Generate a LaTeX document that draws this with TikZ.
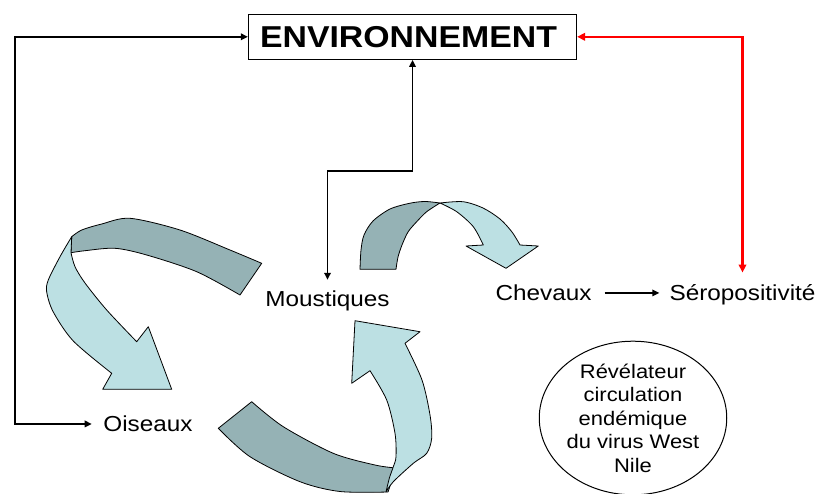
\documentclass[tikz,border=0pt]{standalone}
\usepackage{fontspec}
\usepackage{graphicx}
\setmainfont{Liberation Sans}
\usetikzlibrary{arrows.meta,shapes.geometric}
\newcommand{\sx}[1]{\scalebox{1.12}[1]{#1}}
\definecolor{ribdarkc}{RGB}{149,178,181}
\definecolor{riblightc}{RGB}{188,224,227}
\definecolor{redc}{RGB}{255,0,0}
\tikzset{
  blk/.style={line width=1.6pt,black,{Triangle[length=7pt,width=6.5pt]}-{Triangle[length=7pt,width=6.5pt]}},
  redl/.style={line width=2.2pt,redc,{Triangle[length=8pt,width=7.5pt]}-{Triangle[length=8pt,width=7.5pt]}},
  onehead/.style={line width=1.4pt,black,-{Triangle[length=7pt,width=6.5pt]}},
  lbl/.style={inner sep=0pt,font=\fontsize{21.7}{26}\selectfont},
  ribdark/.style={fill=ribdarkc,draw=black,line width=0.8pt,line join=round},
  riblight/.style={fill=riblightc,draw=black,line width=0.8pt,line join=round},
}
\begin{document}
\begin{tikzpicture}[x=1pt,y=-1pt]
\useasboundingbox (0,0) rectangle (818,493);

% nodes
\node[draw,line width=1.2pt,minimum width=328pt,minimum height=45pt,inner sep=0pt]
  (env) at (412.5,36.8) {\fontsize{30.2}{36}\selectfont\bfseries\sx{ENVIRONNEMENT}\kern8pt};
\node[lbl,anchor=base] (mous) at (327.5,306.7) {\sx{Moustiques}};
\node[lbl,anchor=base] (chev) at (543.5,300.7) {\sx{Chevaux}};
\node[lbl,anchor=base] (sero) at (742.5,300.7) {\sx{Séropositivité}};
\node[lbl,anchor=base] (ois) at (148,431.7) {\sx{Oiseaux}};
\node[draw,ellipse,line width=1pt,minimum width=182pt,minimum height=148pt,inner sep=0pt,
  align=center,font=\fontsize{19.6}{23.5}\selectfont] (rev) at (633,418)
  {\sx{Révélateur}\\\sx{circulation}\\\sx{endémique}\\\sx{du virus West}\\\sx{Nile}};

% connectors
\coordinate (lc) at (15,36.8);
\coordinate (mj) at (412.5,171);
\draw[blk,shorten >=11.5pt] (env.west) -- (lc) |- (ois.west);
\draw[blk,shorten <=11pt] (mous.north) |- (mj) -- (env.south);
\draw[redl,shorten >=12pt] (env.east) -| (sero.north);
\draw[onehead,shorten <=13pt,shorten >=10pt] (chev.east) -- (chev.east -| sero.west);

% ribbon A (Moustiques -> Oiseaux)
\filldraw[ribdark] plot[smooth] coordinates {(71.7,236.7) (81.7,230) (101.7,224) (130,218.3) (180,230) (230,250) (261.7,263.3)}
  -- (240,295)
  -- plot[smooth] coordinates {(240,295) (196.7,271.7) (146.7,255) (115,248.3) (85,250.7) (71,252.7)} -- cycle;
\filldraw[riblight] plot[smooth] coordinates {(71.7,236.7) (60,256.7) (48.3,280) (46.7,292) (53.3,312) (73.3,341) (111.7,373.3)}
  -- (102.7,389.3) -- (171.7,389.3) -- (148.3,326.7) -- (136.7,341.7)
  -- plot[smooth] coordinates {(136.7,341.7) (106.7,310) (85,283) (75,266.7) (71,252.7)} -- cycle;

% ribbon B (Oiseaux -> Moustiques)
\filldraw[ribdark] (218.3,428.3) -- (251.7,401.7)
  -- plot[smooth] coordinates {(251.7,401.7) (283.3,426.7) (333.3,453.3) (375,465) (396,468)}
  -- (388,492)
  -- plot[smooth] coordinates {(388,492) (340,491.5) (300,481.7) (250,456.7) (218.3,428.3)} -- cycle;
\filldraw[riblight] plot[smooth] coordinates {(386,492) (393.3,481.7) (413.3,463.3) (426.7,453.3) (431.7,438) (430,415) (422,380) (405,343.3)}
  -- (420,331.7) -- (355,320.7) -- (351.7,383.3) -- (370,370.7)
  -- plot[smooth] coordinates {(370,370.7) (386.7,400) (395,433.3) (396,456.7) (393.3,466.7) (389.3,478.3) (386,492)} -- cycle;

% ribbon C (Moustiques -> Chevaux)
\filldraw[ribdark] plot[smooth] coordinates {(360,269.3) (361,250) (364,235) (373,221) (390,209) (410,203.2) (425,201.5) (440,203)}
  -- plot[smooth] coordinates {(440,203) (426.7,211.7) (416.7,221.7) (408,232) (402,245) (398,257) (396,269.3)} -- cycle;
\filldraw[riblight] plot[smooth] coordinates {(440,203) (463,201.7) (483,208) (500,219) (512,232) (520,245)}
  -- (538.3,246) -- (506,268.3) -- (466,246) -- (483.3,245)
  -- plot[smooth] coordinates {(483.3,245) (473.3,226.7) (456.7,211.7) (440,203)} -- cycle;
\end{tikzpicture}
\end{document}
